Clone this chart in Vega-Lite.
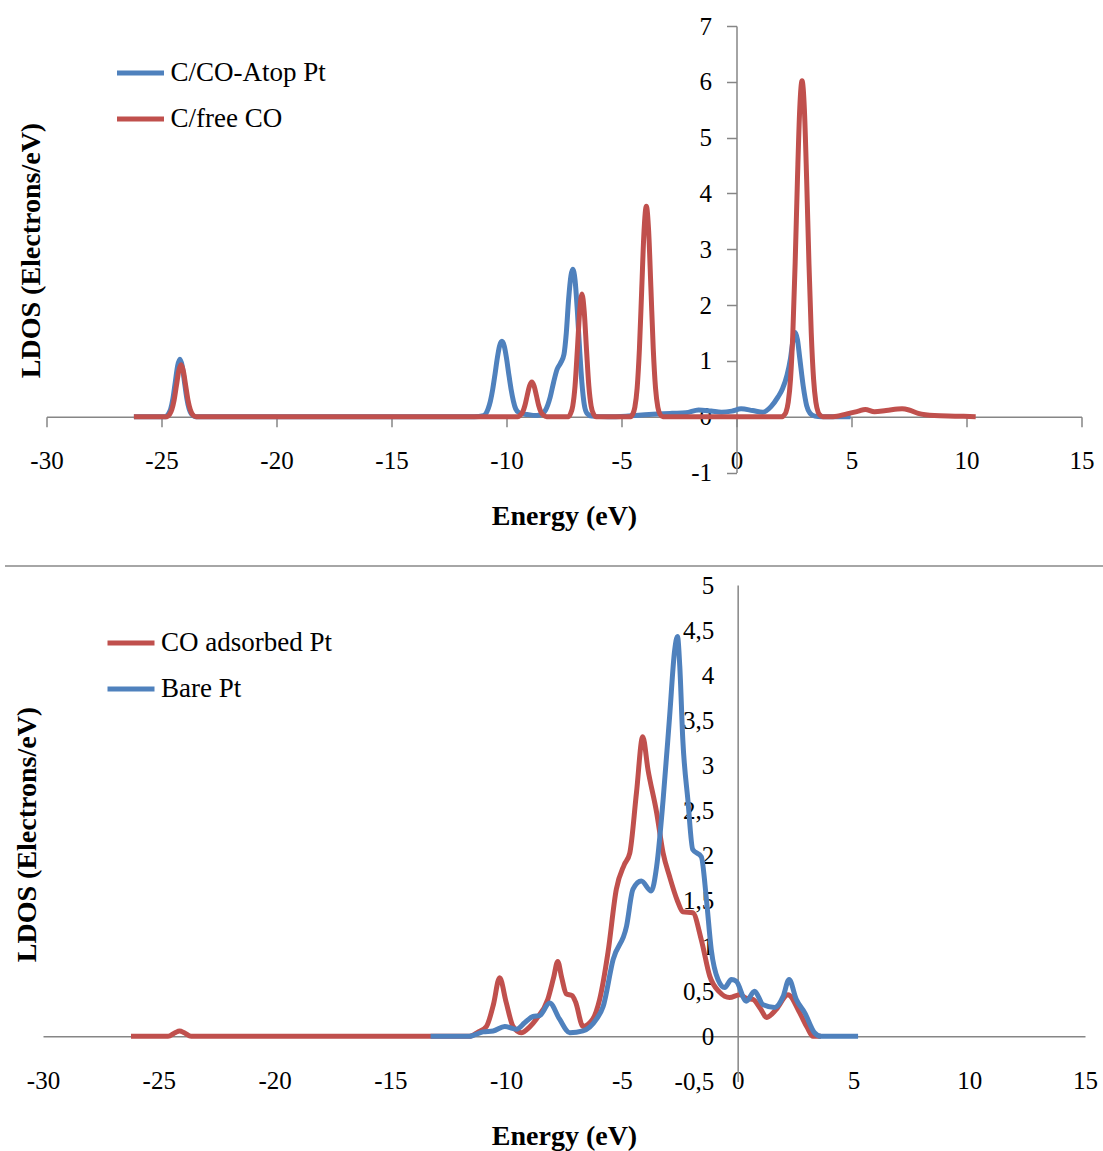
{
  "$schema": "https://vega.github.io/schema/vega-lite/v6.json",
  "padding": {"left": 4, "top": 14, "right": 0, "bottom": 0},
  "autosize": {"type": "pad"},
  "background": "white",
  "config": {
    "font": "Liberation Serif",
    "locale": {"number": {"decimal": ",", "thousands": ".", "grouping": [3], "currency": ["", ""], "minus": "-"}},
    "view": {"stroke": null},
    "axis": {"grid": false, "labelFont": "Liberation Serif", "labelFontSize": 25, "labelColor": "#000000", "titleFont": "Liberation Serif", "titleFontSize": 28, "titleFontWeight": "bold", "titleColor": "#000000", "domainColor": "#868686", "tickColor": "#868686", "domainWidth": 1.5, "tickWidth": 1.5, "labelFlush": false, "labelOverlap": false},
    "legend": {"labelFont": "Liberation Serif", "labelFontSize": 27, "labelColor": "#000000", "labelLimit": 0}
  },
  "vconcat": [
    {
      "width": 1035,
      "height": 446.5,
      "data": {"values": [
        {"E": -26.2, "V": 0, "s": "C/CO-Atop Pt"},
        {"E": -24.8, "V": 0, "s": "C/CO-Atop Pt"},
        {"E": -24.7, "V": 0.05, "s": "C/CO-Atop Pt"},
        {"E": -24.6, "V": 0.14, "s": "C/CO-Atop Pt"},
        {"E": -24.5, "V": 0.33, "s": "C/CO-Atop Pt"},
        {"E": -24.4, "V": 0.62, "s": "C/CO-Atop Pt"},
        {"E": -24.3, "V": 0.91, "s": "C/CO-Atop Pt"},
        {"E": -24.2, "V": 1.03, "s": "C/CO-Atop Pt"},
        {"E": -24.1, "V": 0.91, "s": "C/CO-Atop Pt"},
        {"E": -24.0, "V": 0.62, "s": "C/CO-Atop Pt"},
        {"E": -23.9, "V": 0.33, "s": "C/CO-Atop Pt"},
        {"E": -23.8, "V": 0.14, "s": "C/CO-Atop Pt"},
        {"E": -23.7, "V": 0.05, "s": "C/CO-Atop Pt"},
        {"E": -23.5, "V": 0, "s": "C/CO-Atop Pt"},
        {"E": -11.4, "V": 0, "s": "C/CO-Atop Pt"},
        {"E": -11.0, "V": 0.02, "s": "C/CO-Atop Pt"},
        {"E": -10.8, "V": 0.14, "s": "C/CO-Atop Pt"},
        {"E": -10.7, "V": 0.28, "s": "C/CO-Atop Pt"},
        {"E": -10.6, "V": 0.49, "s": "C/CO-Atop Pt"},
        {"E": -10.5, "V": 0.76, "s": "C/CO-Atop Pt"},
        {"E": -10.4, "V": 1.05, "s": "C/CO-Atop Pt"},
        {"E": -10.3, "V": 1.27, "s": "C/CO-Atop Pt"},
        {"E": -10.2, "V": 1.35, "s": "C/CO-Atop Pt"},
        {"E": -10.1, "V": 1.27, "s": "C/CO-Atop Pt"},
        {"E": -10.0, "V": 1.05, "s": "C/CO-Atop Pt"},
        {"E": -9.9, "V": 0.76, "s": "C/CO-Atop Pt"},
        {"E": -9.8, "V": 0.49, "s": "C/CO-Atop Pt"},
        {"E": -9.7, "V": 0.28, "s": "C/CO-Atop Pt"},
        {"E": -9.6, "V": 0.14, "s": "C/CO-Atop Pt"},
        {"E": -9.45, "V": 0.07, "s": "C/CO-Atop Pt"},
        {"E": -9.1, "V": 0.04, "s": "C/CO-Atop Pt"},
        {"E": -8.7, "V": 0.02, "s": "C/CO-Atop Pt"},
        {"E": -8.45, "V": 0.05, "s": "C/CO-Atop Pt"},
        {"E": -8.3, "V": 0.12, "s": "C/CO-Atop Pt"},
        {"E": -8.1, "V": 0.35, "s": "C/CO-Atop Pt"},
        {"E": -7.95, "V": 0.62, "s": "C/CO-Atop Pt"},
        {"E": -7.8, "V": 0.85, "s": "C/CO-Atop Pt"},
        {"E": -7.65, "V": 0.96, "s": "C/CO-Atop Pt"},
        {"E": -7.5, "V": 1.12, "s": "C/CO-Atop Pt"},
        {"E": -7.4, "V": 1.5, "s": "C/CO-Atop Pt"},
        {"E": -7.3, "V": 2.1, "s": "C/CO-Atop Pt"},
        {"E": -7.2, "V": 2.52, "s": "C/CO-Atop Pt"},
        {"E": -7.12, "V": 2.64, "s": "C/CO-Atop Pt"},
        {"E": -7.02, "V": 2.45, "s": "C/CO-Atop Pt"},
        {"E": -6.92, "V": 1.9, "s": "C/CO-Atop Pt"},
        {"E": -6.82, "V": 1.2, "s": "C/CO-Atop Pt"},
        {"E": -6.72, "V": 0.6, "s": "C/CO-Atop Pt"},
        {"E": -6.62, "V": 0.22, "s": "C/CO-Atop Pt"},
        {"E": -6.5, "V": 0.06, "s": "C/CO-Atop Pt"},
        {"E": -6.3, "V": 0.01, "s": "C/CO-Atop Pt"},
        {"E": -5.6, "V": 0.0, "s": "C/CO-Atop Pt"},
        {"E": -4.8, "V": 0.01, "s": "C/CO-Atop Pt"},
        {"E": -3.8, "V": 0.04, "s": "C/CO-Atop Pt"},
        {"E": -2.8, "V": 0.06, "s": "C/CO-Atop Pt"},
        {"E": -2.2, "V": 0.07, "s": "C/CO-Atop Pt"},
        {"E": -1.65, "V": 0.12, "s": "C/CO-Atop Pt"},
        {"E": -1.1, "V": 0.1, "s": "C/CO-Atop Pt"},
        {"E": -0.65, "V": 0.08, "s": "C/CO-Atop Pt"},
        {"E": -0.2, "V": 0.1, "s": "C/CO-Atop Pt"},
        {"E": 0.2, "V": 0.14, "s": "C/CO-Atop Pt"},
        {"E": 0.7, "V": 0.11, "s": "C/CO-Atop Pt"},
        {"E": 1.15, "V": 0.08, "s": "C/CO-Atop Pt"},
        {"E": 1.5, "V": 0.18, "s": "C/CO-Atop Pt"},
        {"E": 1.8, "V": 0.35, "s": "C/CO-Atop Pt"},
        {"E": 2.0, "V": 0.5, "s": "C/CO-Atop Pt"},
        {"E": 2.2, "V": 0.75, "s": "C/CO-Atop Pt"},
        {"E": 2.35, "V": 1.05, "s": "C/CO-Atop Pt"},
        {"E": 2.45, "V": 1.35, "s": "C/CO-Atop Pt"},
        {"E": 2.55, "V": 1.51, "s": "C/CO-Atop Pt"},
        {"E": 2.65, "V": 1.38, "s": "C/CO-Atop Pt"},
        {"E": 2.75, "V": 1.05, "s": "C/CO-Atop Pt"},
        {"E": 2.9, "V": 0.55, "s": "C/CO-Atop Pt"},
        {"E": 3.05, "V": 0.2, "s": "C/CO-Atop Pt"},
        {"E": 3.2, "V": 0.06, "s": "C/CO-Atop Pt"},
        {"E": 3.4, "V": 0.01, "s": "C/CO-Atop Pt"},
        {"E": 3.7, "V": 0, "s": "C/CO-Atop Pt"},
        {"E": 4.96, "V": 0, "s": "C/CO-Atop Pt"},
        {"E": -26.2, "V": 0, "s": "C/free CO"},
        {"E": -24.75, "V": 0, "s": "C/free CO"},
        {"E": -24.65, "V": 0.04, "s": "C/free CO"},
        {"E": -24.55, "V": 0.13, "s": "C/free CO"},
        {"E": -24.45, "V": 0.3, "s": "C/free CO"},
        {"E": -24.35, "V": 0.56, "s": "C/free CO"},
        {"E": -24.25, "V": 0.82, "s": "C/free CO"},
        {"E": -24.15, "V": 0.93, "s": "C/free CO"},
        {"E": -24.05, "V": 0.82, "s": "C/free CO"},
        {"E": -23.95, "V": 0.56, "s": "C/free CO"},
        {"E": -23.85, "V": 0.3, "s": "C/free CO"},
        {"E": -23.75, "V": 0.13, "s": "C/free CO"},
        {"E": -23.65, "V": 0.04, "s": "C/free CO"},
        {"E": -23.5, "V": 0, "s": "C/free CO"},
        {"E": -9.5, "V": 0, "s": "C/free CO"},
        {"E": -9.4, "V": 0.03, "s": "C/free CO"},
        {"E": -9.3, "V": 0.08, "s": "C/free CO"},
        {"E": -9.2, "V": 0.2, "s": "C/free CO"},
        {"E": -9.1, "V": 0.38, "s": "C/free CO"},
        {"E": -9.0, "V": 0.55, "s": "C/free CO"},
        {"E": -8.9, "V": 0.62, "s": "C/free CO"},
        {"E": -8.8, "V": 0.55, "s": "C/free CO"},
        {"E": -8.7, "V": 0.38, "s": "C/free CO"},
        {"E": -8.6, "V": 0.2, "s": "C/free CO"},
        {"E": -8.5, "V": 0.08, "s": "C/free CO"},
        {"E": -8.4, "V": 0.03, "s": "C/free CO"},
        {"E": -8.25, "V": 0, "s": "C/free CO"},
        {"E": -7.3, "V": 0, "s": "C/free CO"},
        {"E": -7.22, "V": 0.05, "s": "C/free CO"},
        {"E": -7.12, "V": 0.19, "s": "C/free CO"},
        {"E": -7.02, "V": 0.55, "s": "C/free CO"},
        {"E": -6.92, "V": 1.19, "s": "C/free CO"},
        {"E": -6.82, "V": 1.88, "s": "C/free CO"},
        {"E": -6.72, "V": 2.2, "s": "C/free CO"},
        {"E": -6.62, "V": 1.88, "s": "C/free CO"},
        {"E": -6.52, "V": 1.19, "s": "C/free CO"},
        {"E": -6.42, "V": 0.55, "s": "C/free CO"},
        {"E": -6.32, "V": 0.19, "s": "C/free CO"},
        {"E": -6.22, "V": 0.05, "s": "C/free CO"},
        {"E": -6.1, "V": 0, "s": "C/free CO"},
        {"E": -4.6, "V": 0, "s": "C/free CO"},
        {"E": -4.52, "V": 0.04, "s": "C/free CO"},
        {"E": -4.42, "V": 0.17, "s": "C/free CO"},
        {"E": -4.32, "V": 0.51, "s": "C/free CO"},
        {"E": -4.22, "V": 1.22, "s": "C/free CO"},
        {"E": -4.12, "V": 2.29, "s": "C/free CO"},
        {"E": -4.02, "V": 3.33, "s": "C/free CO"},
        {"E": -3.92, "V": 3.77, "s": "C/free CO"},
        {"E": -3.82, "V": 3.33, "s": "C/free CO"},
        {"E": -3.72, "V": 2.29, "s": "C/free CO"},
        {"E": -3.62, "V": 1.22, "s": "C/free CO"},
        {"E": -3.52, "V": 0.51, "s": "C/free CO"},
        {"E": -3.42, "V": 0.17, "s": "C/free CO"},
        {"E": -3.32, "V": 0.04, "s": "C/free CO"},
        {"E": -3.2, "V": 0, "s": "C/free CO"},
        {"E": 2.0, "V": 0, "s": "C/free CO"},
        {"E": 2.05, "V": 0.02, "s": "C/free CO"},
        {"E": 2.15, "V": 0.08, "s": "C/free CO"},
        {"E": 2.25, "V": 0.26, "s": "C/free CO"},
        {"E": 2.35, "V": 0.68, "s": "C/free CO"},
        {"E": 2.45, "V": 1.5, "s": "C/free CO"},
        {"E": 2.55, "V": 2.75, "s": "C/free CO"},
        {"E": 2.65, "V": 4.25, "s": "C/free CO"},
        {"E": 2.75, "V": 5.52, "s": "C/free CO"},
        {"E": 2.85, "V": 6.02, "s": "C/free CO"},
        {"E": 2.95, "V": 5.52, "s": "C/free CO"},
        {"E": 3.05, "V": 4.25, "s": "C/free CO"},
        {"E": 3.15, "V": 2.75, "s": "C/free CO"},
        {"E": 3.25, "V": 1.5, "s": "C/free CO"},
        {"E": 3.35, "V": 0.68, "s": "C/free CO"},
        {"E": 3.45, "V": 0.26, "s": "C/free CO"},
        {"E": 3.55, "V": 0.08, "s": "C/free CO"},
        {"E": 3.65, "V": 0.02, "s": "C/free CO"},
        {"E": 3.75, "V": 0, "s": "C/free CO"},
        {"E": 4.2, "V": 0, "s": "C/free CO"},
        {"E": 4.8, "V": 0.05, "s": "C/free CO"},
        {"E": 5.3, "V": 0.1, "s": "C/free CO"},
        {"E": 5.6, "V": 0.13, "s": "C/free CO"},
        {"E": 6.0, "V": 0.09, "s": "C/free CO"},
        {"E": 6.5, "V": 0.11, "s": "C/free CO"},
        {"E": 7.2, "V": 0.14, "s": "C/free CO"},
        {"E": 7.5, "V": 0.12, "s": "C/free CO"},
        {"E": 7.9, "V": 0.06, "s": "C/free CO"},
        {"E": 8.6, "V": 0.02, "s": "C/free CO"},
        {"E": 9.5, "V": 0.01, "s": "C/free CO"},
        {"E": 10.4, "V": 0, "s": "C/free CO"}
      ]},
      "encoding": {
        "x": {"field": "E", "type": "quantitative",
          "scale": {"domain": [-30, 15], "nice": false, "zero": false},
          "axis": {"title": "Energy (eV)", "offset": -55.8, "values": [-30, -25, -20, -15, -10, -5, 0, 5, 10, 15], "tickSize": 10, "labelPadding": 22, "labelFont": "Liberation Serif", "titleFont": "Liberation Serif", "titleY": 99.5, "titleBaseline": "middle"}},
        "y": {"field": "V", "type": "quantitative",
          "scale": {"domain": [-1, 7], "nice": false, "zero": false},
          "axis": {"title": "LDOS (Electrons/eV)", "offset": -690, "values": [-1, 0, 1, 2, 3, 4, 5, 6, 7], "tickSize": 10, "labelPadding": 15, "labelFont": "Liberation Serif", "titleFont": "Liberation Serif", "titleX": -705.5, "titleY": 224, "titleAngle": 270, "titleAlign": "center", "titleBaseline": "middle"}}
      },
      "layer": [
        {"transform": [{"filter": "datum.s === 'C/CO-Atop Pt'"}], "mark": {"type": "line", "interpolate": "monotone", "strokeWidth": 5},
          "encoding": {"color": {"field": "s", "type": "nominal",
            "scale": {"domain": ["C/CO-Atop Pt", "C/free CO"], "range": ["#4F81BD", "#C0504D"]},
            "legend": {"title": null, "orient": "none", "legendX": 68, "legendY": 21, "symbolType": "stroke", "symbolSize": 2209, "symbolStrokeWidth": 5, "labelFont": "Liberation Serif", "labelFontSize": 27, "labelLimit": 0, "labelOffset": 4, "rowPadding": 7, "padding": 0}}}},
        {"transform": [{"filter": "datum.s === 'C/free CO'"}], "mark": {"type": "line", "interpolate": "monotone", "strokeWidth": 5},
          "encoding": {"color": {"field": "s", "type": "nominal",
            "scale": {"domain": ["C/CO-Atop Pt", "C/free CO"], "range": ["#4F81BD", "#C0504D"]}}}}
      ]
    },
    {
      "width": 1042,
      "height": 496.5,
      "data": {"values": [
        {"E": -26.2, "V": 0, "s": "CO adsorbed Pt"},
        {"E": -24.6, "V": 0, "s": "CO adsorbed Pt"},
        {"E": -24.3, "V": 0.04, "s": "CO adsorbed Pt"},
        {"E": -24.1, "V": 0.06, "s": "CO adsorbed Pt"},
        {"E": -23.9, "V": 0.04, "s": "CO adsorbed Pt"},
        {"E": -23.6, "V": 0, "s": "CO adsorbed Pt"},
        {"E": -11.6, "V": 0, "s": "CO adsorbed Pt"},
        {"E": -11.2, "V": 0.05, "s": "CO adsorbed Pt"},
        {"E": -10.85, "V": 0.11, "s": "CO adsorbed Pt"},
        {"E": -10.55, "V": 0.35, "s": "CO adsorbed Pt"},
        {"E": -10.28, "V": 0.65, "s": "CO adsorbed Pt"},
        {"E": -10.0, "V": 0.38, "s": "CO adsorbed Pt"},
        {"E": -9.7, "V": 0.11, "s": "CO adsorbed Pt"},
        {"E": -9.35, "V": 0.04, "s": "CO adsorbed Pt"},
        {"E": -9.0, "V": 0.1, "s": "CO adsorbed Pt"},
        {"E": -8.7, "V": 0.19, "s": "CO adsorbed Pt"},
        {"E": -8.2, "V": 0.41, "s": "CO adsorbed Pt"},
        {"E": -7.95, "V": 0.65, "s": "CO adsorbed Pt"},
        {"E": -7.77, "V": 0.83, "s": "CO adsorbed Pt"},
        {"E": -7.6, "V": 0.65, "s": "CO adsorbed Pt"},
        {"E": -7.4, "V": 0.47, "s": "CO adsorbed Pt"},
        {"E": -7.15, "V": 0.45, "s": "CO adsorbed Pt"},
        {"E": -7.0, "V": 0.38, "s": "CO adsorbed Pt"},
        {"E": -6.68, "V": 0.11, "s": "CO adsorbed Pt"},
        {"E": -6.26, "V": 0.19, "s": "CO adsorbed Pt"},
        {"E": -5.96, "V": 0.41, "s": "CO adsorbed Pt"},
        {"E": -5.6, "V": 0.93, "s": "CO adsorbed Pt"},
        {"E": -5.24, "V": 1.63, "s": "CO adsorbed Pt"},
        {"E": -4.9, "V": 1.9, "s": "CO adsorbed Pt"},
        {"E": -4.66, "V": 2.03, "s": "CO adsorbed Pt"},
        {"E": -4.37, "V": 2.7, "s": "CO adsorbed Pt"},
        {"E": -4.1, "V": 3.32, "s": "CO adsorbed Pt"},
        {"E": -3.87, "V": 2.95, "s": "CO adsorbed Pt"},
        {"E": -3.5, "V": 2.48, "s": "CO adsorbed Pt"},
        {"E": -3.22, "V": 2.03, "s": "CO adsorbed Pt"},
        {"E": -2.94, "V": 1.77, "s": "CO adsorbed Pt"},
        {"E": -2.6, "V": 1.5, "s": "CO adsorbed Pt"},
        {"E": -2.37, "V": 1.38, "s": "CO adsorbed Pt"},
        {"E": -1.94, "V": 1.37, "s": "CO adsorbed Pt"},
        {"E": -1.57, "V": 1.07, "s": "CO adsorbed Pt"},
        {"E": -1.21, "V": 0.67, "s": "CO adsorbed Pt"},
        {"E": -0.78, "V": 0.49, "s": "CO adsorbed Pt"},
        {"E": -0.35, "V": 0.43, "s": "CO adsorbed Pt"},
        {"E": 0.09, "V": 0.46, "s": "CO adsorbed Pt"},
        {"E": 0.4, "V": 0.42, "s": "CO adsorbed Pt"},
        {"E": 0.66, "V": 0.41, "s": "CO adsorbed Pt"},
        {"E": 1.0, "V": 0.3, "s": "CO adsorbed Pt"},
        {"E": 1.24, "V": 0.21, "s": "CO adsorbed Pt"},
        {"E": 1.67, "V": 0.3, "s": "CO adsorbed Pt"},
        {"E": 2.17, "V": 0.46, "s": "CO adsorbed Pt"},
        {"E": 2.68, "V": 0.26, "s": "CO adsorbed Pt"},
        {"E": 3.0, "V": 0.1, "s": "CO adsorbed Pt"},
        {"E": 3.25, "V": 0, "s": "CO adsorbed Pt"},
        {"E": 3.6, "V": 0, "s": "CO adsorbed Pt"},
        {"E": -13.26, "V": 0, "s": "Bare Pt"},
        {"E": -11.6, "V": 0, "s": "Bare Pt"},
        {"E": -11.0, "V": 0.05, "s": "Bare Pt"},
        {"E": -10.56, "V": 0.06, "s": "Bare Pt"},
        {"E": -10.06, "V": 0.11, "s": "Bare Pt"},
        {"E": -9.55, "V": 0.08, "s": "Bare Pt"},
        {"E": -9.2, "V": 0.15, "s": "Bare Pt"},
        {"E": -8.84, "V": 0.22, "s": "Bare Pt"},
        {"E": -8.55, "V": 0.23, "s": "Bare Pt"},
        {"E": -8.12, "V": 0.37, "s": "Bare Pt"},
        {"E": -7.69, "V": 0.19, "s": "Bare Pt"},
        {"E": -7.25, "V": 0.04, "s": "Bare Pt"},
        {"E": -6.68, "V": 0.06, "s": "Bare Pt"},
        {"E": -6.1, "V": 0.19, "s": "Bare Pt"},
        {"E": -5.81, "V": 0.33, "s": "Bare Pt"},
        {"E": -5.38, "V": 0.85, "s": "Bare Pt"},
        {"E": -4.8, "V": 1.22, "s": "Bare Pt"},
        {"E": -4.52, "V": 1.63, "s": "Bare Pt"},
        {"E": -4.16, "V": 1.72, "s": "Bare Pt"},
        {"E": -3.73, "V": 1.61, "s": "Bare Pt"},
        {"E": -3.5, "V": 1.88, "s": "Bare Pt"},
        {"E": -3.22, "V": 2.62, "s": "Bare Pt"},
        {"E": -2.94, "V": 3.54, "s": "Bare Pt"},
        {"E": -2.72, "V": 4.28, "s": "Bare Pt"},
        {"E": -2.6, "V": 4.43, "s": "Bare Pt"},
        {"E": -2.5, "V": 4.1, "s": "Bare Pt"},
        {"E": -2.37, "V": 3.29, "s": "Bare Pt"},
        {"E": -2.15, "V": 2.62, "s": "Bare Pt"},
        {"E": -1.94, "V": 2.07, "s": "Bare Pt"},
        {"E": -1.57, "V": 1.99, "s": "Bare Pt"},
        {"E": -1.35, "V": 1.52, "s": "Bare Pt"},
        {"E": -1.14, "V": 0.96, "s": "Bare Pt"},
        {"E": -0.85, "V": 0.63, "s": "Bare Pt"},
        {"E": -0.56, "V": 0.54, "s": "Bare Pt"},
        {"E": -0.27, "V": 0.63, "s": "Bare Pt"},
        {"E": -0.06, "V": 0.61, "s": "Bare Pt"},
        {"E": 0.37, "V": 0.39, "s": "Bare Pt"},
        {"E": 0.73, "V": 0.5, "s": "Bare Pt"},
        {"E": 1.1, "V": 0.35, "s": "Bare Pt"},
        {"E": 1.6, "V": 0.32, "s": "Bare Pt"},
        {"E": 1.96, "V": 0.44, "s": "Bare Pt"},
        {"E": 2.22, "V": 0.63, "s": "Bare Pt"},
        {"E": 2.53, "V": 0.41, "s": "Bare Pt"},
        {"E": 2.9, "V": 0.26, "s": "Bare Pt"},
        {"E": 3.32, "V": 0.04, "s": "Bare Pt"},
        {"E": 3.6, "V": 0, "s": "Bare Pt"},
        {"E": 5.2, "V": 0, "s": "Bare Pt"}
      ]},
      "encoding": {
        "x": {"field": "E", "type": "quantitative",
          "scale": {"domain": [-30, 15], "nice": false, "zero": false},
          "axis": {"title": "Energy (eV)", "offset": -45.14, "values": [-30, -25, -20, -15, -10, -5, 0, 5, 10, 15], "ticks": false, "tickSize": 0, "labelPadding": 32, "labelFont": "Liberation Serif", "titleFont": "Liberation Serif", "titleY": 100, "titleBaseline": "middle"}},
        "y": {"field": "V", "type": "quantitative",
          "scale": {"domain": [-0.5, 5], "nice": false, "zero": false},
          "axis": {"title": "LDOS (Electrons/eV)", "offset": -694.67, "values": [-0.5, 0, 0.5, 1, 1.5, 2, 2.5, 3, 3.5, 4, 4.5, 5], "format": "~g", "ticks": false, "tickSize": 0, "labelPadding": 24, "labelFont": "Liberation Serif", "titleFont": "Liberation Serif", "titleX": -710, "titleY": 249, "titleAngle": 270, "titleAlign": "center", "titleBaseline": "middle"}}
      },
      "layer": [
        {"transform": [{"filter": "datum.s === 'CO adsorbed Pt'"}], "mark": {"type": "line", "interpolate": "monotone", "strokeWidth": 5},
          "encoding": {"color": {"field": "s", "type": "nominal",
            "scale": {"domain": ["CO adsorbed Pt", "Bare Pt"], "range": ["#C0504D", "#4F81BD"]},
            "legend": {"title": null, "orient": "none", "legendX": 62, "legendY": 32, "symbolType": "stroke", "symbolSize": 2209, "symbolStrokeWidth": 5, "labelFont": "Liberation Serif", "labelFontSize": 27, "labelLimit": 0, "labelOffset": 4, "rowPadding": 7, "padding": 0}}}},
        {"transform": [{"filter": "datum.s === 'Bare Pt'"}], "mark": {"type": "line", "interpolate": "monotone", "strokeWidth": 5},
          "encoding": {"color": {"field": "s", "type": "nominal",
            "scale": {"domain": ["CO adsorbed Pt", "Bare Pt"], "range": ["#C0504D", "#4F81BD"]}}}},
        {"mark": {"type": "rule", "color": "#A6A6A6", "strokeWidth": 2},
          "encoding": {"x": {"datum": -31.64}, "x2": {"datum": 15.8}, "y": {"datum": 5.21}}}
      ]
    }
  ],
  "spacing": 112,
  "bounds": "flush",
  "center": true,
  "resolve": {"scale": {"x": "independent", "y": "independent", "color": "independent"}, "legend": {"color": "independent"}}
}
